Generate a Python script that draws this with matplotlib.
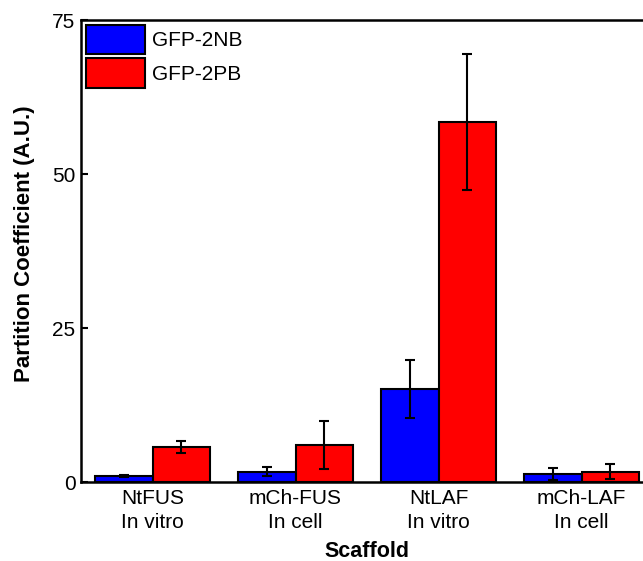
import matplotlib
matplotlib.use("Agg")
import matplotlib.pyplot as plt
import numpy as np

plt.rcParams['font.family'] = ['Liberation Sans', 'DejaVu Sans']

categories = ["NtFUS\nIn vitro", "mCh-FUS\nIn cell", "NtLAF\nIn vitro", "mCh-LAF\nIn cell"]
series_names = ["GFP-2NB", "GFP-2PB"]
nb_values = [0.97, 1.65, 15.1, 1.3]
nb_errors = [0.1, 0.75, 4.65, 0.95]
pb_values = [5.7, 6.0, 58.4, 1.7]
pb_errors = [1.0, 3.9, 11.0, 1.15]
colors = ["#0000ff", "#ff0000"]
yticks = [0, 25, 50, 75]

fig = plt.figure(figsize=(6.43, 5.61), dpi=100)
ax = fig.add_axes([81/643, 79/561, 572/643, 462/561])

x = np.arange(len(categories))
w = 0.4
lw = 1.5
err_kw = dict(ecolor='black', elinewidth=1.5, capsize=3.6, capthick=1.5)
ax.bar(x - w/2, nb_values, w, yerr=nb_errors, color=colors[0], edgecolor='black',
       linewidth=lw, label=series_names[0], error_kw=err_kw, zorder=2)
ax.bar(x + w/2, pb_values, w, yerr=pb_errors, color=colors[1], edgecolor='black',
       linewidth=lw, label=series_names[1], error_kw=err_kw, zorder=2)

ax.set_xlim(-0.5, 3.5)
ax.set_ylim(0, 75)
ax.set_yticks(yticks)
ax.set_xticks(x)
ax.set_xticklabels(categories, fontsize=15, linespacing=1.35)
ax.tick_params(axis='y', direction='in', length=5, width=1.5, labelsize=15, pad=4)
ax.tick_params(axis='x', length=0, pad=5)
for s in ['left', 'bottom', 'top']:
    ax.spines[s].set_linewidth(1.8)
ax.spines['right'].set_visible(False)

ax.set_ylabel("Partition Coefficient (A.U.)", fontsize=16, fontweight='bold')
ax.yaxis.set_label_coords(-0.08, 0.515)
ax.set_xlabel("Scaffold", fontsize=15.5, fontweight='bold', va='top')
ax.xaxis.set_label_coords(0.5, -0.128)

leg = ax.legend(loc='upper left', bbox_to_anchor=(0, 1), borderaxespad=0.15,
                borderpad=0.1, frameon=False, fontsize=15, handlelength=2.8,
                handleheight=1.77, labelspacing=0.2, handletextpad=0.35)

fig.savefig("out.png", dpi=100)
